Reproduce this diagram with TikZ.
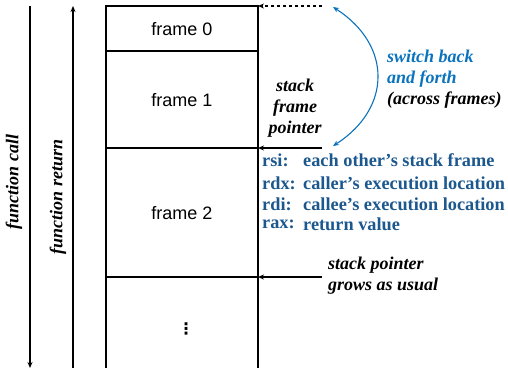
\documentclass[tikz,border=0pt]{standalone}
\usepackage{fontspec}
\setmainfont{Liberation Serif}
\newfontfamily\framefont{Liberation Sans}
\newfontfamily\symfont{DejaVu Sans}
\usetikzlibrary{arrows.meta,positioning,calc}
\definecolor{regblue}{RGB}{28,88,142}
\definecolor{swblue}{RGB}{10,115,190}

\begin{document}
\begin{tikzpicture}[x=1pt,y=-1pt]
\tikzset{framelbl/.style={font=\framefont\fontsize{18}{20}\selectfont}}
\tikzset{note/.style={font=\bfseries\itshape\fontsize{18}{21}\selectfont, align=left, inner sep=0pt}}
\tikzset{reg/.style={font=\bfseries\fontsize{18.3}{21}\selectfont, text=regblue, anchor=west, inner sep=0pt}}
\tikzset{ptr/.style={line width=1.1pt, -{Stealth[length=6pt,width=5pt]}}}
\useasboundingbox (0,0) rectangle (508,373);

% the stack
\coordinate (tl) at (106,6);
\coordinate (tr) at (258,6);
\coordinate (bl) at (106,368);
\coordinate (br) at (258,368);
\coordinate (l1) at (106,51);
\coordinate (r1) at (258,51);
\coordinate (l2) at (106,148);
\coordinate (r2) at (258,148);
\coordinate (l3) at (106,277);
\coordinate (r3) at (258,277);
\draw[line width=1.1pt] (bl) -- (tl) -- (tr) -- (br);
\draw[line width=1.1pt] (l1) -- (r1) (l2) -- (r2) (l3) -- (r3);

\node[framelbl] (f0) at (182,29) {frame 0};
\node[framelbl] (f1) at (182,100) {frame 1};
\node[framelbl] (f2) at (182,213) {frame 2};
\node[font=\symfont\bfseries\fontsize{16}{16}\selectfont] (fn) at (186,329) {⋮};

% call / return
\coordinate (ctop) at (30,6);
\coordinate (cbot) at (30,368);
\coordinate (rtop) at (73,6);
\coordinate (rbot) at (73,368);
\draw[ptr] (ctop) -- (cbot);
\draw[ptr] (rbot) -- (rtop);
\node[note, rotate=90] (call) at (14,182) {function call};
\node[note, rotate=90] (ret) at (58,197) {function return};

% pointers
\coordinate (dtail) at (322,6);
\coordinate (ftail) at (322,148);
\coordinate (stail) at (322,277);
\draw[ptr, dashed] (dtail) -- (tr);
\draw[ptr] (ftail) -- (r2);
\draw[ptr] (stail) -- (r3);
\node[note, align=center] (sfp) at (295,108) {stack\\frame\\pointer};
\node[note, anchor=west] (sp) at (328,276) {stack pointer\\grows as usual};

% switching
\coordinate (cua) at (333,7);
\coordinate (cub) at (333,146);
\draw[swblue, line width=1.1pt, {Stealth[length=6pt,width=5pt]}-{Stealth[length=6pt,width=5pt]}]
  (cua) .. controls (392,45) and (392,108) .. (cub);
\node[note, anchor=west] (sw) at (387,79) {\textcolor{swblue}{switch back}\\\textcolor{swblue}{and forth}\\(across frames)};

% registers
\node[reg] (rsi) at (262,160) {rsi:};
\node[reg] (rdx) at (262,183) {rdx:};
\node[reg] (rdi) at (262,204) {rdi:};
\node[reg] (rax) at (262,224) {rax:};
\node[reg] at (303,160) {each other’s stack frame};
\node[reg] at (303,183) {caller’s execution location};
\node[reg] at (303,204) {callee’s execution location};
\node[reg] at (303,224) {return value};
\end{tikzpicture}
\end{document}
